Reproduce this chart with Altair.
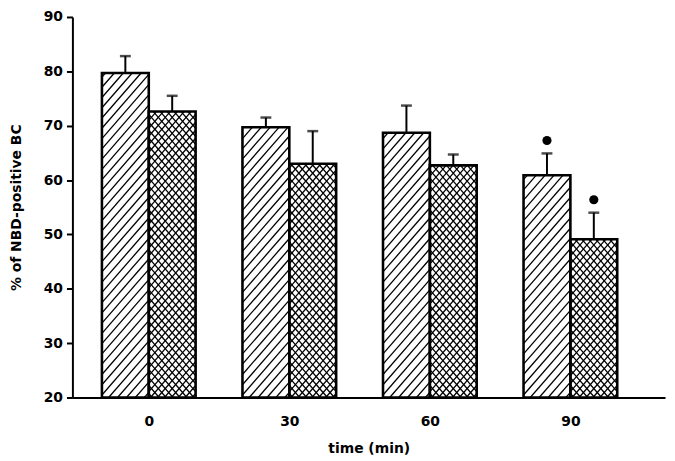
import altair as alt
import pandas as pd

# ---- data ----
times = [0, 30, 60, 90]
series_a_mean = [79.7, 69.7, 68.7, 60.9]
series_a_err = [3.1, 1.8, 5.0, 4.0]
series_b_mean = [72.6, 63.0, 62.7, 49.1]
series_b_err = [2.9, 6.0, 2.0, 4.9]
series_a_sig = [False, False, False, True]
series_b_sig = [False, False, False, True]
y_ticks = [20, 30, 40, 50, 60, 70, 80, 90]
x_ticks = [0, 30, 60, 90]

rows = []
for i, t in enumerate(times):
    rows.append({"time": t, "series": "A", "mean": series_a_mean[i],
                 "err": series_a_err[i], "sig": series_a_sig[i]})
    rows.append({"time": t, "series": "B", "mean": series_b_mean[i],
                 "err": series_b_err[i], "sig": series_b_sig[i]})
df = pd.DataFrame(rows)

# ---- layout ----
W, H = 598, 384
XDOM = [-16.3, 110.2]
YDOM = [20, 90]
BW = 10  # bar width in time units
SX = W / (XDOM[1] - XDOM[0])
SY = H / (YDOM[1] - YDOM[0])
R = 1.15  # pixel slope of hatch lines
M = R * SX / SY
DU_A = 9 * R / SY
DU_B = 7 * R / SY
FONT = "DejaVu Sans"

xs = alt.Scale(domain=XDOM, nice=False, zero=False)
ys = alt.Scale(domain=YDOM, nice=False, zero=False)

base = alt.Chart(df).transform_calculate(
    x0=f"datum.series == 'A' ? datum.time - {BW} : datum.time",
    x1=f"datum.series == 'A' ? datum.time : datum.time + {BW}",
    xc=f"datum.series == 'A' ? datum.time - {BW/2} : datum.time + {BW/2}",
    base="20",
    top="datum.mean + datum.err",
)

xenc = alt.X("x0:Q", scale=xs,
             axis=alt.Axis(values=x_ticks, title="time (min)", grid=False,
                           ticks=False, labelPadding=17, domainWidth=2,
                           domainColor="black", labelFont=FONT,
                           labelFontWeight="bold", labelFontSize=14,
                           labelColor="black", titleFont=FONT,
                           titleFontWeight="bold", titleFontSize=14,
                           titleColor="black", titlePadding=13))
yenc = alt.Y("mean:Q", scale=ys,
             axis=alt.Axis(values=y_ticks, title="% of NBD-positive BC",
                           grid=False, tickSize=6, tickWidth=2,
                           tickColor="black", domainWidth=2,
                           domainColor="black", labelPadding=4,
                           labelFont=FONT, labelFontWeight="bold",
                           labelFontSize=14, labelColor="black",
                           titleFont=FONT, titleFontWeight="bold",
                           titleFontSize=14, titleColor="black",
                           titlePadding=20))

bars_fill = base.mark_bar(fill="white", stroke=None).encode(
    x=xenc, x2="x1:Q", y=yenc, y2="base:Q")

hatch = base.transform_calculate(
    fams="datum.series == 'A' ? [1] : [1, -1]",
    ks="sequence(0, 70)",
).transform_flatten(["fams"]).transform_flatten(["ks"]).transform_calculate(
    s=f"datum.fams * {M}",
    du=f"datum.series == 'A' ? {DU_A} : {DU_B}",
).transform_calculate(
    umin="20 - max(datum.s * datum.x0, datum.s * datum.x1)",
    umax="datum.mean - min(datum.s * datum.x0, datum.s * datum.x1)",
).transform_calculate(
    u="datum.umin + (datum.ks + 0.5) * datum.du",
).transform_filter("datum.u < datum.umax").transform_calculate(
    xa="max(datum.x0, min((20 - datum.u) / datum.s, (datum.mean - datum.u) / datum.s))",
    xb="min(datum.x1, max((20 - datum.u) / datum.s, (datum.mean - datum.u) / datum.s))",
).transform_filter("datum.xa < datum.xb").transform_calculate(
    ya="datum.s * datum.xa + datum.u",
    yb="datum.s * datum.xb + datum.u",
).mark_rule(color="black", strokeWidth=1.3).encode(
    x=alt.X("xa:Q", scale=xs), x2="xb:Q",
    y=alt.Y("ya:Q", scale=ys), y2="yb:Q")

bars_outline = base.mark_bar(fill=None, stroke="black", strokeWidth=2.6).encode(
    x=alt.X("x0:Q", scale=xs), x2="x1:Q",
    y=alt.Y("mean:Q", scale=ys), y2="base:Q")

err_line = base.mark_rule(color="black", strokeWidth=2).encode(
    x=alt.X("xc:Q", scale=xs),
    y=alt.Y("mean:Q", scale=ys), y2="top:Q")

err_cap = base.mark_tick(color="black", orient="horizontal", size=11,
                         thickness=2.5).encode(
    x=alt.X("xc:Q", scale=xs), y=alt.Y("top:Q", scale=ys))

stars = base.transform_filter("datum.sig").mark_point(
    shape="circle", filled=True, color="black", size=85, opacity=1,
    yOffset=-13).encode(
    x=alt.X("xc:Q", scale=xs), y=alt.Y("top:Q", scale=ys))

chart = alt.layer(bars_fill, hatch, bars_outline, err_line, err_cap, stars).properties(
    width=W, height=H,
    background="white",
    autosize=alt.AutoSizeParams(type="none"),
    padding={"left": 65, "top": 7, "right": 2, "bottom": 60},
).configure_view(stroke=None)

chart.save("out.html", embed_options={"renderer": "svg", "actions": False})
